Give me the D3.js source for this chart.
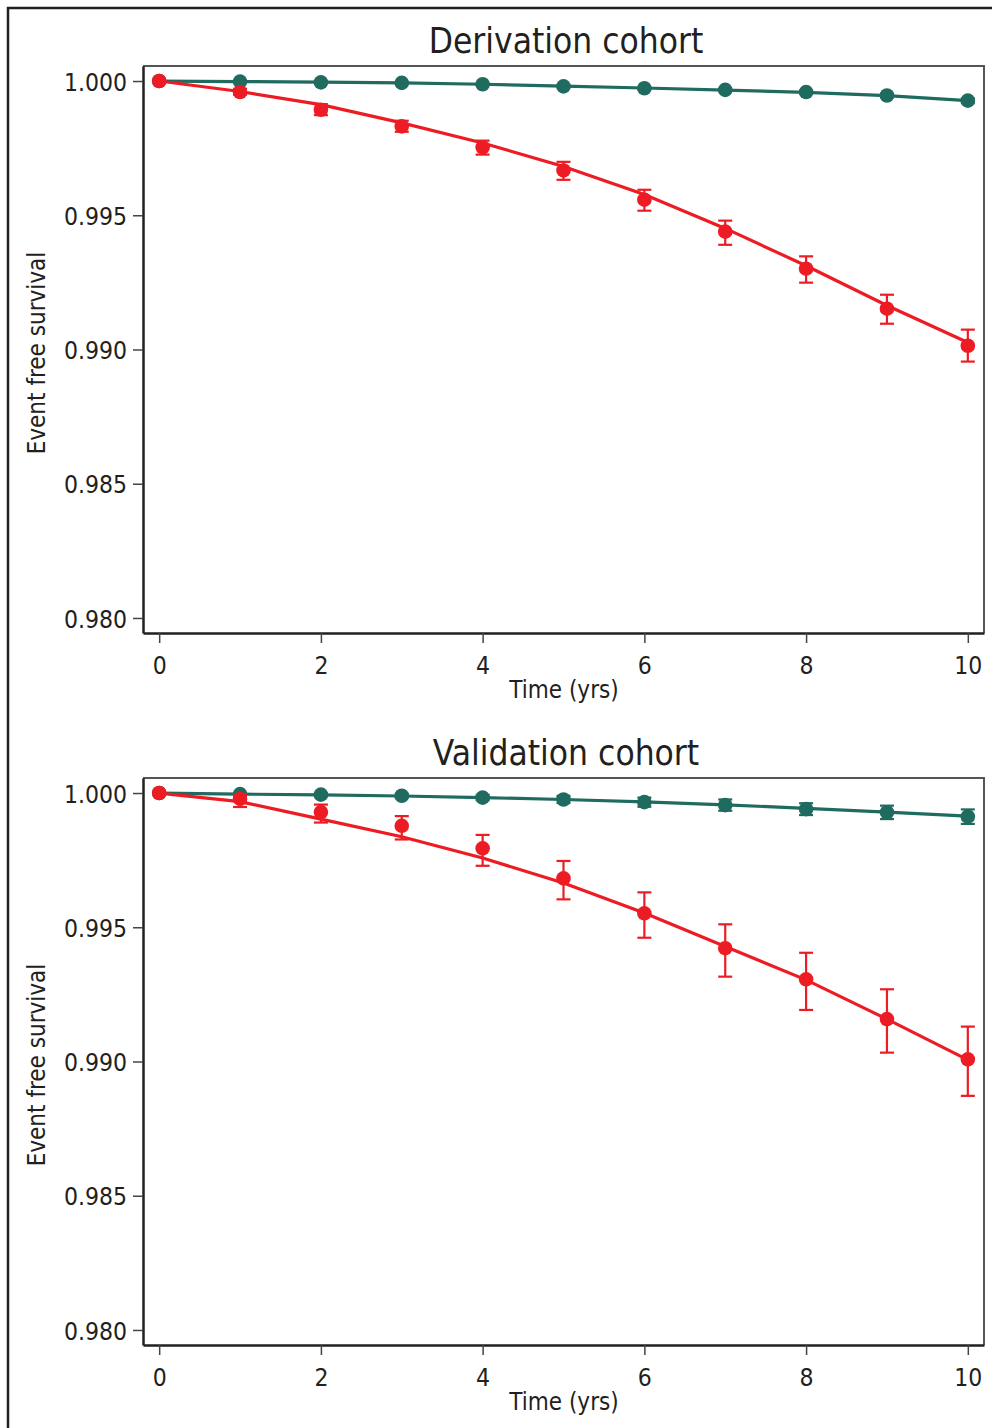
<!DOCTYPE html>
<html>
<head>
<meta charset="utf-8">
<script src="https://cdn.jsdelivr.net/npm/d3@7"></script>
<style>
  html, body { margin: 0; padding: 0; background: #fff; }
  svg text { font-family: "DejaVu Sans Condensed", "DejaVu Sans", sans-serif; fill: #231f20; }
</style>
</head>
<body>
<svg width="992" height="1428"></svg>
<script>
const years = [0, 1, 2, 3, 4, 5, 6, 7, 8, 9, 10];
const xTicks = [0, 2, 4, 6, 8, 10];
const yTicks = [0.980, 0.985, 0.990, 0.995, 1.000];
const panelTitles = ["Derivation cohort", "Validation cohort"];

// derivation cohort
const derivLowObs = [1.00000, 0.99998, 0.99995, 0.99993, 0.99988, 0.99980, 0.99973, 0.99967, 0.99959, 0.99946, 0.99927];
const derivLowLo  = [1.00000, 0.99997, 0.99993, 0.99991, 0.99985, 0.99977, 0.99969, 0.99962, 0.99953, 0.99939, 0.99919];
const derivLowHi  = [1.00000, 0.99999, 0.99997, 0.99995, 0.99991, 0.99983, 0.99977, 0.99972, 0.99965, 0.99953, 0.99935];
const derivLowFit = [1.00000, 0.99998, 0.99996, 0.99993, 0.99988, 0.99981, 0.99974, 0.99966, 0.99958, 0.99946, 0.99927];
const derivHighObs = [1.00000, 0.99959, 0.99893, 0.99831, 0.99753, 0.99667, 0.99558, 0.99439, 0.99301, 0.99152, 0.99014];
const derivHighLo  = [1.00000, 0.99949, 0.99873, 0.99811, 0.99726, 0.99632, 0.99517, 0.99390, 0.99249, 0.99096, 0.98955];
const derivHighHi  = [1.00000, 0.99971, 0.99914, 0.99852, 0.99778, 0.99699, 0.99595, 0.99480, 0.99347, 0.99204, 0.99074];
const derivHighFit = [1.00000, 0.99961, 0.99912, 0.99844, 0.99769, 0.99682, 0.99577, 0.99451, 0.99312, 0.99164, 0.99026];

// validation cohort
const validLowObs = [1.00000, 0.99996, 0.99994, 0.99990, 0.99983, 0.99976, 0.99966, 0.99955, 0.99940, 0.99928, 0.99912];
const validLowLo  = [1.00000, 0.99993, 0.99989, 0.99983, 0.99973, 0.99963, 0.99949, 0.99934, 0.99918, 0.99903, 0.99885];
const validLowHi  = [1.00000, 0.99999, 0.99999, 0.99997, 0.99993, 0.99989, 0.99983, 0.99976, 0.99962, 0.99953, 0.99939];
const validLowFit = [1.00000, 0.99996, 0.99993, 0.99989, 0.99983, 0.99976, 0.99967, 0.99956, 0.99943, 0.99929, 0.99914];
const validHighObs = [1.00000, 0.99978, 0.99929, 0.99878, 0.99794, 0.99682, 0.99552, 0.99422, 0.99306, 0.99158, 0.99008];
const validHighLo  = [1.00000, 0.99948, 0.99890, 0.99827, 0.99729, 0.99604, 0.99461, 0.99316, 0.99192, 0.99033, 0.98872];
const validHighHi  = [1.00000, 0.99996, 0.99957, 0.99914, 0.99844, 0.99747, 0.99630, 0.99511, 0.99405, 0.99269, 0.99130];
const validHighFit = [1.00000, 0.99968, 0.99903, 0.99837, 0.99758, 0.99665, 0.99553, 0.99428, 0.99304, 0.99158, 0.99006];

const green = "#1f6b5f";
const red = "#ed1c24";
const ink = "#231f20";
const fontStack = '"DejaVu Sans Condensed", "DejaVu Sans", sans-serif';

const svg = d3.select("svg");

// outer frame (only left and top edges show in the picture)
svg.append("rect")
    .attr("x", 8).attr("y", 8)
    .attr("width", 1100).attr("height", 1500)
    .attr("fill", "none")
    .attr("stroke", ink)
    .attr("stroke-width", 2.5);

const plotLeft = 143, plotRight = 984, plotTop = 66, plotBottom = 633;

const x = d3.scaleLinear().domain([-0.2, 10.2]).range([plotLeft, plotRight]);
const y = d3.scaleLinear().domain([0.97944, 1.00056]).range([plotBottom, plotTop]);

function series(obs, lo, hi, fit) {
    return years.map((t, i) => ({ t, obs: obs[i], lo: lo[i], hi: hi[i], fit: fit[i] }));
}

const panels = [
    { title: panelTitles[0], dy: 0,
      groups: [
        { color: green, data: series(derivLowObs, derivLowLo, derivLowHi, derivLowFit) },
        { color: red, data: series(derivHighObs, derivHighLo, derivHighHi, derivHighFit) }
      ] },
    { title: panelTitles[1], dy: 712,
      groups: [
        { color: green, data: series(validLowObs, validLowLo, validLowHi, validLowFit) },
        { color: red, data: series(validHighObs, validHighLo, validHighHi, validHighFit) }
      ] }
];

panels.forEach(p => {
    const g = svg.append("g").attr("transform", `translate(0,${p.dy})`);

    g.append("text")
        .attr("x", 566).attr("y", 53)
        .attr("text-anchor", "middle")
        .attr("font-size", "35px")
        .text(p.title);

    // plot box: top & right
    g.append("path")
        .attr("d", `M${plotLeft},${plotTop}H${plotRight}V${plotBottom}`)
        .attr("fill", "none")
        .attr("stroke", "#555")
        .attr("stroke-width", 2);

    const yAxis = g.append("g")
        .attr("transform", `translate(${plotLeft},0)`)
        .call(d3.axisLeft(y).tickValues(yTicks).tickFormat(d3.format(".3f"))
            .tickSizeInner(10).tickSizeOuter(0).tickPadding(6));
    const xAxis = g.append("g")
        .attr("transform", `translate(0,${plotBottom})`)
        .call(d3.axisBottom(x).tickValues(xTicks).tickSizeInner(10).tickSizeOuter(0).tickPadding(6));

    [yAxis, xAxis].forEach(a => {
        a.select(".domain").attr("stroke", ink).attr("stroke-width", 2.5);
        a.selectAll(".tick line").attr("stroke", "#444").attr("stroke-width", 1.5);
        a.selectAll(".tick text").attr("font-size", "24.5px").attr("fill", ink)
            .style("font-family", fontStack);
    });
    yAxis.selectAll(".tick text").attr("dy", "0.37em");
    xAxis.selectAll(".tick text").attr("dy", "1.0em");

    g.append("text")
        .attr("x", 564).attr("y", 698)
        .attr("text-anchor", "middle")
        .attr("font-size", "24px")
        .text("Time (yrs)");

    g.append("text")
        .attr("transform", `translate(45,${353}) rotate(-90)`)
        .attr("text-anchor", "middle")
        .attr("font-size", "24px")
        .text("Event free survival");

    const line = d3.line().x(d => x(d.t)).y(d => y(d.fit));

    p.groups.forEach(s => {
        const sg = g.append("g");
        sg.append("path")
            .datum(s.data)
            .attr("d", line)
            .attr("fill", "none")
            .attr("stroke", s.color)
            .attr("stroke-width", 3.2);

        const eb = sg.selectAll("g.err").data(s.data.filter(d => d.hi > d.lo)).join("g").attr("class", "err");
        eb.append("line")
            .attr("x1", d => x(d.t)).attr("x2", d => x(d.t))
            .attr("y1", d => y(d.hi)).attr("y2", d => y(d.lo));
        eb.append("line")
            .attr("x1", d => x(d.t) - 7).attr("x2", d => x(d.t) + 7)
            .attr("y1", d => y(d.hi)).attr("y2", d => y(d.hi));
        eb.append("line")
            .attr("x1", d => x(d.t) - 7).attr("x2", d => x(d.t) + 7)
            .attr("y1", d => y(d.lo)).attr("y2", d => y(d.lo));
        eb.selectAll("line").attr("stroke", s.color).attr("stroke-width", 2.2);

        sg.selectAll("circle")
            .data(s.data)
            .join("circle")
            .attr("cx", d => x(d.t))
            .attr("cy", d => y(d.obs))
            .attr("r", 7.3)
            .attr("fill", s.color);
    });
});
</script>
</body>
</html>
